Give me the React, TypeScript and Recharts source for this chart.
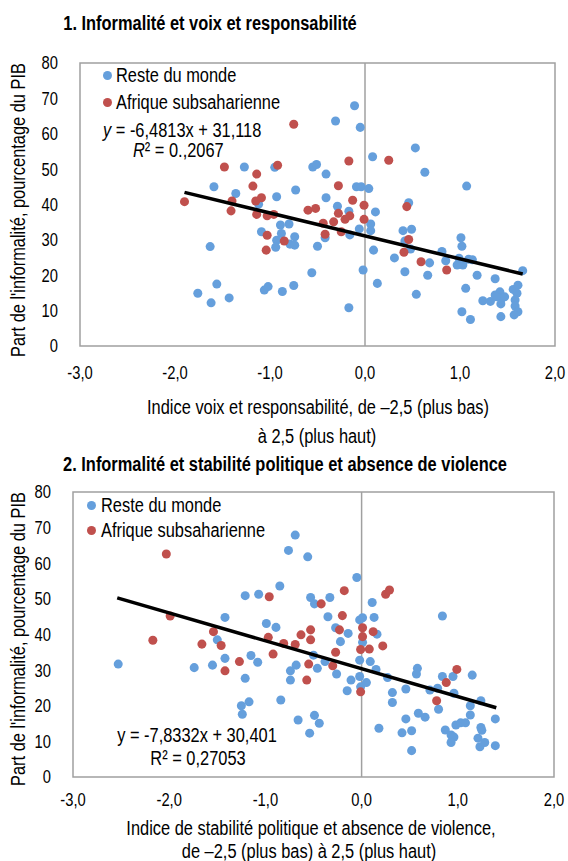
import React from 'react';
import {
  ScatterChart, Scatter, XAxis, YAxis, ZAxis, ReferenceLine, ReferenceArea,
} from 'recharts';

const FONT = "'Liberation Sans', Arial, sans-serif";
const SX = 0.82; // horizontal condensing to imitate a narrow face
const BLUE = '#659FDC';
const RED = '#C0504D';
const GRID = '#A0A0A0';

const xTicks = [-3, -2, -1, 0, 1, 2];
const yTicks = [0, 10, 20, 30, 40, 50, 60, 70, 80];
const seriesNames = ['Reste du monde', 'Afrique subsaharienne'];

// Chart 1: voix et responsabilité
const voixReste: [number, number][] = [
  [-1.27, 50.6], [-0.95, 50.5], [-0.55, 50.6], [-0.51, 51.3], [-1.59, 45.0], [-1.36, 43.1],
  [-0.73, 44.1], [-0.93, 42.2], [-1.12, 40.1], [-0.89, 34.2], [-0.80, 34.5], [-1.09, 32.3],
  [-0.88, 31.8], [-0.74, 30.9], [-0.93, 29.9], [-0.79, 28.8], [-0.74, 28.5], [-0.94, 27.9],
  [-0.50, 28.2], [-1.63, 28.1], [-0.56, 20.7], [-1.56, 17.5], [-1.76, 14.9], [-1.62, 12.2],
  [-1.43, 13.6], [-1.06, 15.8], [-1.02, 16.8], [-0.87, 15.4], [-0.75, 17.1],
  [-0.11, 67.9], [-0.31, 63.6], [-0.05, 61.8], [0.53, 56.0], [0.08, 53.5], [0.63, 49.1],
  [-0.41, 48.6], [-0.09, 45.0], [-0.04, 45.0], [0.04, 44.5], [1.07, 45.2], [-0.41, 41.9],
  [-0.29, 39.5], [-0.17, 38.1], [0.11, 37.9], [0.46, 40.5], [0.06, 34.5], [0.06, 32.6],
  [-0.06, 33.1], [-0.16, 31.4], [-0.42, 30.6], [0.40, 32.6], [0.49, 33.0], [0.42, 29.7],
  [0.48, 27.4], [0.09, 27.1], [0.31, 24.9], [0.68, 23.5], [0.81, 26.7], [0.85, 24.1],
  [1.01, 30.6], [1.02, 28.2], [0.99, 24.8], [0.97, 22.9], [1.03, 22.9], [1.09, 24.5],
  [1.13, 24.4], [-0.02, 21.5], [0.42, 21.0], [0.66, 20.0], [1.18, 20.0], [0.13, 17.7],
  [0.54, 14.6], [1.06, 16.3], [1.37, 19.0], [1.66, 21.3], [-0.17, 10.8], [1.02, 9.7],
  [1.11, 7.5], [1.24, 12.8], [1.32, 12.6], [1.37, 14.4], [1.42, 15.3], [1.44, 13.5],
  [1.43, 11.9], [1.47, 13.9], [1.56, 16.0], [1.61, 17.2], [1.60, 14.9], [1.58, 13.0],
  [1.58, 11.3], [1.61, 9.7], [1.57, 8.8], [1.43, 8.3], [1.38, 13.9],
];
const voixAfrique: [number, number][] = [
  [-0.75, 62.7], [-1.48, 50.6], [-0.92, 51.1], [-1.14, 48.6], [-1.18, 45.2], [-1.40, 41.0],
  [-1.15, 41.0], [-1.09, 41.9], [-1.90, 40.8], [-1.41, 38.2], [-1.14, 37.2], [-1.03, 36.8],
  [-0.96, 37.2], [-0.60, 38.4], [-0.52, 38.9], [-1.03, 31.3], [-0.85, 29.7], [-1.04, 27.1],
  [-0.17, 52.3], [0.25, 52.5], [-0.28, 45.3], [-0.13, 41.2], [-0.01, 39.8], [0.44, 39.4],
  [-0.28, 37.5], [-0.16, 36.8], [-0.21, 35.8], [-0.01, 35.8], [-0.33, 35.1], [-0.44, 34.7],
  [-0.25, 32.3], [-0.42, 31.6], [0.46, 30.1], [0.41, 26.5], [0.59, 23.8], [0.86, 21.5],
];
const voixTrend = { slope: -6.4813, intercept: 31.118, xMin: -1.9, xMax: 1.66 };

// Chart 2: stabilité politique
const stabReste: [number, number][] = [
  [-2.53, 31.7], [-1.74, 30.7], [-1.55, 31.4], [-1.50, 38.5], [-1.42, 44.8], [-1.42, 33.3],
  [-1.21, 50.9], [-1.07, 51.3], [-0.85, 53.6], [-0.69, 67.9], [-0.76, 63.6], [-0.56, 61.8],
  [-0.99, 43.1], [-0.89, 42.0], [-1.15, 34.1], [-1.08, 32.2], [-1.21, 27.7], [-0.68, 31.4],
  [-0.74, 29.8], [-0.74, 27.2], [-0.53, 50.4], [-0.49, 48.6], [-0.50, 34.2], [-0.46, 30.5],
  [-1.25, 20.0], [-1.17, 21.1], [-1.24, 17.6], [-0.84, 21.6], [-0.66, 16.0], [-0.54, 12.3],
  [-0.49, 17.3], [-0.44, 15.1],
  [-0.05, 56.0], [-0.33, 50.4], [0.11, 49.0], [-0.35, 45.0], [-0.02, 44.1], [0.01, 44.7],
  [0.13, 44.8], [0.84, 45.2], [-0.27, 41.9], [-0.14, 40.3], [0.16, 40.1], [-0.22, 38.0],
  [0.01, 37.8], [-0.38, 32.4], [-0.26, 28.9], [-0.02, 32.8], [0.09, 32.4], [0.15, 30.2],
  [-0.11, 27.2], [-0.15, 24.2], [-0.02, 28.2], [0.05, 26.5], [-0.01, 25.3], [0.27, 27.9],
  [0.32, 23.7], [0.32, 20.9], [0.46, 24.7], [0.58, 30.5], [0.57, 28.9], [0.71, 24.4],
  [0.79, 24.9], [0.80, 19.0], [0.84, 28.2], [0.95, 28.2], [0.96, 23.5], [1.15, 28.6],
  [1.24, 21.4], [1.13, 20.0], [1.13, 17.4], [1.39, 16.3], [1.39, 8.8], [0.46, 16.3],
  [0.59, 17.9], [0.66, 16.8], [0.18, 13.7], [0.42, 12.4], [0.52, 13.0], [0.52, 7.4],
  [0.87, 13.2], [0.93, 11.8], [0.96, 11.2], [0.93, 9.7], [0.98, 14.6], [1.03, 15.2],
  [1.08, 15.2], [1.24, 13.9], [1.25, 13.1], [1.21, 10.9], [1.23, 8.5], [1.28, 9.7],
];
const stabAfrique: [number, number][] = [
  [-2.03, 62.6], [-1.99, 45.2], [-2.17, 38.4], [-1.66, 37.3], [-1.54, 40.8], [-1.46, 36.9],
  [-1.42, 29.8], [-1.27, 32.4], [-0.96, 50.6], [-0.97, 39.2], [-0.92, 34.5], [-0.81, 37.5],
  [-0.69, 37.2], [-0.63, 39.9], [-0.53, 41.3], [-0.53, 38.5], [-0.55, 31.7], [-0.57, 27.2],
  [-0.42, 48.6], [-0.18, 52.3], [-0.20, 45.3], [-0.23, 41.3], [0.01, 41.9], [0.01, 39.4],
  [0.12, 40.8], [0.22, 36.8], [0.08, 35.9], [-0.01, 35.8], [0.25, 51.3], [0.29, 52.5],
  [-0.27, 35.0], [-0.30, 31.2], [-0.01, 23.9], [0.99, 30.2], [0.88, 26.5], [0.78, 21.4],
];
const stabTrend = { slope: -7.8332, intercept: 30.401, xMin: -2.54, xMax: 1.4 };

const toPts = (arr: [number, number][]) => arr.map(([x, y]) => ({ x, y }));
const trendPts = (t: { slope: number; intercept: number; xMin: number; xMax: number }) => [
  { x: t.xMin, y: t.slope * t.xMin + t.intercept },
  { x: t.xMax, y: t.slope * t.xMax + t.intercept },
];
const fmtX = (v: number) => v.toFixed(1).replace('.', ',');

const XTick = (p: any) => (
  <g transform={`translate(${p.x},${p.y})`}>
    <text transform={`scale(${SX},1)`} textAnchor="middle" dy="0.71em" fontSize={18} fill="#000" fontFamily={FONT}>
      {fmtX(p.payload.value)}
    </text>
  </g>
);
const YTick = (p: any) => (
  <g transform={`translate(${p.x},${p.y})`}>
    <text transform={`scale(${SX},1)`} textAnchor="end" dy="0.355em" fontSize={18} fill="#000" fontFamily={FONT}>
      {p.payload.value}
    </text>
  </g>
);

const centered = (left: number, top: number, extra: React.CSSProperties = {}): React.CSSProperties => ({
  position: 'absolute', left, top, transform: `translate(-50%,-50%) scaleX(${SX})`, whiteSpace: 'nowrap',
  lineHeight: 1, fontFamily: FONT, color: '#000', zIndex: 2, fontSize: 20, ...extra,
});
const leftAligned = (left: number, top: number, extra: React.CSSProperties = {}): React.CSSProperties => ({
  position: 'absolute', left, top, transform: `translate(0,-50%) scaleX(${SX})`, transformOrigin: 'left center',
  whiteSpace: 'nowrap', lineHeight: 1, fontFamily: FONT, color: '#000', zIndex: 2, fontSize: 20, ...extra,
});

function Panel(props: {
  top: number; height: number; marginTop: number; marginLeft: number; marginRight: number;
  xAxisHeight: number; xTickMargin: number; reste: [number, number][]; afrique: [number, number][];
  trend: { slope: number; intercept: number; xMin: number; xMax: number };
}) {
  return (
    <div style={{ position: 'absolute', left: 0, top: props.top, zIndex: 1 }}>
      <ScatterChart
        width={568}
        height={props.height}
        margin={{ top: props.marginTop, left: props.marginLeft, right: props.marginRight, bottom: 0 }}
      >
        <XAxis
          type="number" dataKey="x" domain={[-3, 2]} ticks={xTicks}
          axisLine={false} tickLine={false} tickSize={0} tickMargin={props.xTickMargin}
          height={props.xAxisHeight} tick={<XTick />} interval={0} allowDataOverflow
        />
        <YAxis
          type="number" dataKey="y" domain={[0, 80]} ticks={yTicks} axisLine={false}
          tickLine={false} tickSize={0} tickMargin={22} width={40} tick={<YTick />} interval={0}
          allowDataOverflow
        />
        <ZAxis range={[78, 78]} />
        <ReferenceArea x1={-3} x2={2} y1={0} y2={80} fill="none" stroke={GRID} strokeWidth={1.5} fillOpacity={0} />
        <ReferenceLine x={0} stroke={GRID} strokeWidth={1.5} />
        <Scatter name={seriesNames[0]} data={toPts(props.reste)} fill={BLUE} isAnimationActive={false} />
        <Scatter name={seriesNames[1]} data={toPts(props.afrique)} fill={RED} isAnimationActive={false} />
        <Scatter
          data={trendPts(props.trend)} line={{ stroke: '#000', strokeWidth: 3.5 }}
          shape={() => <g />} isAnimationActive={false} legendType="none"
        />
      </ScatterChart>
    </div>
  );
}

const dot = (left: number, top: number, color: string): React.CSSProperties => ({
  position: 'absolute', left: left - 4.5, top: top - 4.5, width: 9, height: 9,
  borderRadius: '50%', background: color, zIndex: 2,
});

export default function App() {
  const yLabel = "Part de l'informalité, pourcentage du PIB";
  const rot = { transform: `translate(-50%,-50%) rotate(-90deg) scaleX(${SX})` };
  return (
    <div style={{ position: 'absolute', left: 0, top: 0, width: 568, height: 861, background: '#fff', overflow: 'hidden', fontFamily: FONT }}>
      <Panel top={0} height={440} marginTop={63} marginLeft={40} marginRight={13}
        xAxisHeight={94} xTickMargin={20} reste={voixReste} afrique={voixAfrique} trend={voixTrend} />
      <Panel top={440} height={421} marginTop={52} marginLeft={33} marginRight={14}
        xAxisHeight={84} xTickMargin={16} reste={stabReste} afrique={stabAfrique} trend={stabTrend} />

      <div style={centered(210, 23, { fontWeight: 'bold' })}>1. Informalité et voix et responsabilité</div>
      <div style={centered(285, 464, { fontWeight: 'bold' })}>2. Informalité et stabilité politique et absence de violence</div>

      <div style={centered(18, 210, rot)}>{yLabel}</div>
      <div style={centered(18, 639, rot)}>{yLabel}</div>

      <div style={centered(318, 407)}>Indice voix et responsabilité, de –2,5 (plus bas)</div>
      <div style={centered(317, 436)}>à 2,5 (plus haut)</div>
      <div style={centered(311, 828)}>Indice de stabilité politique et absence de violence,</div>
      <div style={centered(309, 851)}>de –2,5 (plus bas) à 2,5 (plus haut)</div>

      <div style={dot(107, 75, BLUE)} />
      <div style={leftAligned(116, 75)}>{seriesNames[0]}</div>
      <div style={dot(107, 102, RED)} />
      <div style={leftAligned(116, 102)}>{seriesNames[1]}</div>
      <div style={leftAligned(103, 130)}><i>y</i> = -6,4813x + 31,118</div>
      <div style={leftAligned(133, 150)}><i>R</i>² = 0.,2067</div>

      <div style={dot(91, 505, BLUE)} />
      <div style={leftAligned(101, 505)}>{seriesNames[0]}</div>
      <div style={dot(91, 530, RED)} />
      <div style={leftAligned(101, 530)}>{seriesNames[1]}</div>
      <div style={centered(197, 735)}>y = -7,8332x + 30,401</div>
      <div style={centered(198, 758)}>R² = 0,27053</div>
    </div>
  );
}
